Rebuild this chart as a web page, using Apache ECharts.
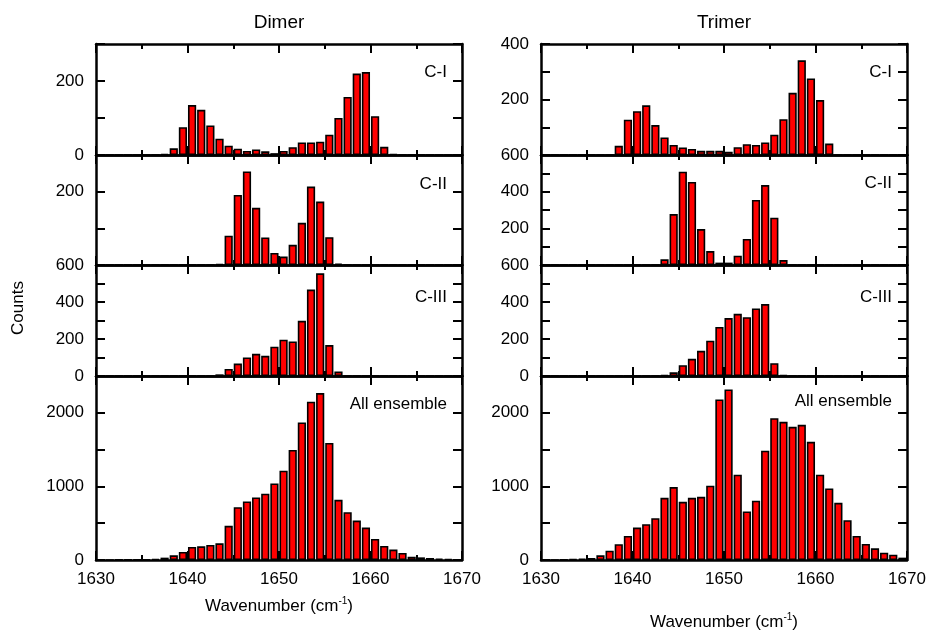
<!DOCTYPE html>
<html>
<head>
<meta charset="utf-8">
<script src="https://cdn.jsdelivr.net/npm/echarts@6/dist/echarts.min.js"></script>
<style>
  html, body { margin: 0; padding: 0; background: #fff; }
  #chart { width: 931px; height: 632px; }
</style>
</head>
<body>
<div id="chart"></div>
<script>
// histogram bins, 1 cm-1 wide, centred on half integers
const binCenters = [
  1630.5, 1631.5, 1632.5, 1633.5, 1634.5, 1635.5, 1636.5, 1637.5, 1638.5, 1639.5,
  1640.5, 1641.5, 1642.5, 1643.5, 1644.5, 1645.5, 1646.5, 1647.5, 1648.5, 1649.5,
  1650.5, 1651.5, 1652.5, 1653.5, 1654.5, 1655.5, 1656.5, 1657.5, 1658.5, 1659.5,
  1660.5, 1661.5, 1662.5, 1663.5, 1664.5, 1665.5, 1666.5, 1667.5, 1668.5, 1669.5
];

const dimerCI = [
  0, 0, 0, 0, 0, 0, 0, 3, 18, 75,
  135, 122, 80, 44, 25, 17, 11, 15, 10, 5,
  11, 21, 34, 34, 36, 55, 100, 157, 220, 224,
  105, 22, 2, 0, 0, 0, 0, 0, 0, 0
];
const dimerCII = [
  0, 0, 0, 0, 0, 0, 0, 0, 0, 0,
  0, 0, 0, 3, 80, 191, 255, 156, 75, 33,
  23, 55, 115, 214, 173, 76, 4, 0, 0, 0,
  0, 0, 0, 0, 0, 0, 0, 0, 0, 0
];
const dimerCIII = [
  0, 0, 0, 0, 0, 0, 0, 0, 0, 0,
  0, 0, 0, 9, 38, 67, 100, 120, 109, 158,
  196, 187, 298, 467, 555, 167, 24, 0, 0, 0,
  0, 0, 0, 0, 0, 0, 0, 0, 0, 0
];
const dimerAll = [
  0, 0, 3, 5, 3, 8, 15, 32, 64, 109,
  177, 186, 205, 227, 464, 718, 795, 850, 900, 1041,
  1214, 1495, 1868, 2150, 2268, 1591, 818, 650, 536, 441,
  286, 191, 141, 95, 45, 36, 27, 18, 14, 5
];

const trimerCI = [
  0, 0, 0, 0, 0, 0, 0, 0, 33, 127,
  158, 179, 108, 63, 36, 27, 22, 15, 15, 15,
  12, 28, 39, 36, 45, 73, 129, 224, 341, 276,
  198, 41, 0, 0, 0, 0, 0, 0, 0, 0
];
const trimerCII = [
  0, 0, 0, 0, 0, 0, 0, 0, 0, 0,
  0, 0, 0, 31, 278, 509, 453, 196, 76, 13,
  13, 51, 142, 355, 436, 258, 27, 0, 0, 0,
  0, 0, 0, 0, 0, 0, 0, 0, 0, 0
];
const trimerCIII = [
  0, 0, 0, 0, 0, 0, 0, 0, 0, 0,
  0, 0, 0, 5, 20, 58, 93, 136, 191, 265,
  313, 336, 318, 365, 389, 69, 5, 0, 0, 0,
  0, 0, 0, 0, 0, 0, 0, 0, 0, 0
];
const trimerAll = [
  0, 0, 3, 9, 18, 27, 64, 127, 214, 327,
  441, 486, 568, 845, 991, 791, 845, 859, 1009, 2182,
  2318, 1159, 659, 805, 1486, 1927, 1877, 1809, 1836, 1605,
  1159, 973, 777, 541, 327, 218, 159, 100, 73, 32
];

const panelNames = ['C-I', 'C-II', 'C-III', 'All ensemble'];
const columnTitles = ['Dimer', 'Trimer'];

// y ranges, tick steps and which tick labels are printed, per panel
const dimerYMax = [300, 300, 600, 2500];
const trimerYMax = [400, 600, 600, 2500];
const yStep = [100, 100, 100, 500];
const dimerYLabels = [[0, 200], [200], [0, 200, 400, 600], [0, 1000, 2000]];
const trimerYLabels = [[200, 400], [200, 400, 600], [0, 200, 400, 600], [0, 1000, 2000]];

const columns = [
  { title: columnTitles[0], data: [dimerCI, dimerCII, dimerCIII, dimerAll], yMax: dimerYMax, yLabels: dimerYLabels },
  { title: columnTitles[1], data: [trimerCI, trimerCII, trimerCIII, trimerAll], yMax: trimerYMax, yLabels: trimerYLabels }
];

const FONT = 'Liberation Sans, Arial, sans-serif';
const colLeft = [96, 541];
const colWidth = 366;
const panelTop = [44, 155, 265, 376];
const panelHeight = [111, 110, 111, 184];
const nameGap = [36, 52];
const labelY = [[72, 184, 297, 404], [72, 183, 297, 401]];

const line = { color: '#000', width: 2.5 };
const xTick = { inside: true, length: 9, lineStyle: { color: '#000', width: 2 } };
const xMinor = { show: true, splitNumber: 2, length: 5, lineStyle: { color: '#000', width: 2 } };
const yTick = { show: true, inside: true, length: 9, lineStyle: { color: '#000', width: 2 } };

const grids = [], xAxes = [], yAxes = [], series = [], texts = [];

columns.forEach((col, c) => {
  col.data.forEach((vals, p) => {
    const g = grids.length;
    const last = p === 3;
    grids.push({ left: colLeft[c], top: panelTop[p], width: colWidth, height: panelHeight[p] });

    xAxes.push({
      gridIndex: g, type: 'value', min: 1630, max: 1670, interval: 10, position: 'bottom',
      axisLine: { onZero: false, lineStyle: line }, axisTick: xTick, minorTick: xMinor,
      splitLine: { show: false },
      axisLabel: {
        show: last, margin: 11, color: '#000', fontFamily: FONT, fontSize: 17,
        formatter: v => String(v)
      },
      name: last ? '{a|Wavenumber (cm}{s|-1}{a|)}' : '',
      nameLocation: 'middle', nameGap: nameGap[c],
      nameTextStyle: {
        rich: {
          a: { fontFamily: FONT, fontSize: 17, color: '#000', lineHeight: 20 },
          s: { fontFamily: FONT, fontSize: 10, color: '#000', verticalAlign: 'top', lineHeight: 20 }
        }
      }
    });
    xAxes.push({
      gridIndex: g, type: 'value', min: 1630, max: 1670, interval: 10, position: 'top',
      axisLine: { onZero: false, lineStyle: line }, axisTick: xTick, minorTick: xMinor,
      splitLine: { show: false }, axisLabel: { show: false }
    });

    const shown = col.yLabels[p];
    yAxes.push({
      gridIndex: g, type: 'value', min: 0, max: col.yMax[p], interval: yStep[p], position: 'left',
      axisLine: { show: true, onZero: false, lineStyle: line }, axisTick: yTick,
      splitLine: { show: false },
      axisLabel: {
        margin: 12, color: '#000', fontFamily: FONT, fontSize: 17,
        showMinLabel: true, showMaxLabel: true,
        formatter: v => (shown.includes(v) ? String(v) : '')
      }
    });
    yAxes.push({
      gridIndex: g, type: 'value', min: 0, max: col.yMax[p], interval: yStep[p], position: 'right',
      axisLine: { show: true, onZero: false, lineStyle: line }, axisTick: yTick,
      splitLine: { show: false }, axisLabel: { show: false }
    });

    series.push({
      type: 'bar',
      xAxisIndex: 2 * g, yAxisIndex: 2 * g,
      data: binCenters.map((x, i) => [x, vals[i]]),
      barWidth: 8.2,
      itemStyle: { color: '#ff0000', borderColor: '#000', borderWidth: 1.6 },
      emphasis: { disabled: true }
    });

    texts.push({
      type: 'text', x: colLeft[c] + colWidth - 15, y: labelY[c][p],
      style: {
        text: panelNames[p], font: '17px ' + FONT, fill: '#000',
        textAlign: 'right', textVerticalAlign: 'middle'
      }
    });
  });

  texts.push({
    type: 'text', x: colLeft[c] + colWidth / 2, y: 23,
    style: {
      text: col.title, font: '19px ' + FONT, fill: '#000',
      textAlign: 'center', textVerticalAlign: 'middle'
    }
  });
});

texts.push({
  type: 'text', x: 18, y: 308, rotation: Math.PI / 2,
  style: {
    text: 'Counts', font: '17px ' + FONT, fill: '#000',
    textAlign: 'center', textVerticalAlign: 'middle'
  }
});

const chart = echarts.init(document.getElementById('chart'));
chart.setOption({
  animation: false,
  backgroundColor: '#fff',
  grid: grids,
  xAxis: xAxes,
  yAxis: yAxes,
  series: series,
  graphic: texts
});
</script>
</body>
</html>
